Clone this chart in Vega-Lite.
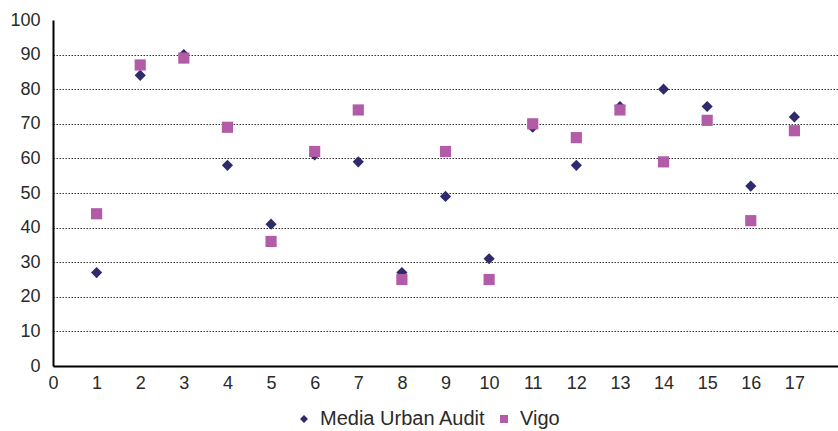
{
  "$schema": "https://vega.github.io/schema/vega-lite/v6.json",
  "width": 785,
  "height": 346,
  "autosize": {"type": "none"},
  "padding": {"left": 53, "top": 20, "right": 0, "bottom": 65},
  "background": "white",
  "config": {
    "view": {"stroke": null},
    "font": "Liberation Sans",
    "axis": {"labelFont": "Liberation Sans", "labelColor": "#2a2a2a", "labelFontSize": 18}
  },
  "data": {
    "values": [
      {"x": 1, "series": "Media Urban Audit", "v": 27},
      {"x": 2, "series": "Media Urban Audit", "v": 84},
      {"x": 3, "series": "Media Urban Audit", "v": 90},
      {"x": 4, "series": "Media Urban Audit", "v": 58},
      {"x": 5, "series": "Media Urban Audit", "v": 41},
      {"x": 6, "series": "Media Urban Audit", "v": 61},
      {"x": 7, "series": "Media Urban Audit", "v": 59},
      {"x": 8, "series": "Media Urban Audit", "v": 27},
      {"x": 9, "series": "Media Urban Audit", "v": 49},
      {"x": 10, "series": "Media Urban Audit", "v": 31},
      {"x": 11, "series": "Media Urban Audit", "v": 69},
      {"x": 12, "series": "Media Urban Audit", "v": 58},
      {"x": 13, "series": "Media Urban Audit", "v": 75},
      {"x": 14, "series": "Media Urban Audit", "v": 80},
      {"x": 15, "series": "Media Urban Audit", "v": 75},
      {"x": 16, "series": "Media Urban Audit", "v": 52},
      {"x": 17, "series": "Media Urban Audit", "v": 72},
      {"x": 1, "series": "Vigo", "v": 44},
      {"x": 2, "series": "Vigo", "v": 87},
      {"x": 3, "series": "Vigo", "v": 89},
      {"x": 4, "series": "Vigo", "v": 69},
      {"x": 5, "series": "Vigo", "v": 36},
      {"x": 6, "series": "Vigo", "v": 62},
      {"x": 7, "series": "Vigo", "v": 74},
      {"x": 8, "series": "Vigo", "v": 25},
      {"x": 9, "series": "Vigo", "v": 62},
      {"x": 10, "series": "Vigo", "v": 25},
      {"x": 11, "series": "Vigo", "v": 70},
      {"x": 12, "series": "Vigo", "v": 66},
      {"x": 13, "series": "Vigo", "v": 74},
      {"x": 14, "series": "Vigo", "v": 59},
      {"x": 15, "series": "Vigo", "v": 71},
      {"x": 16, "series": "Vigo", "v": 42},
      {"x": 17, "series": "Vigo", "v": 68}
    ]
  },
  "mark": {"type": "point", "filled": true, "opacity": 1, "size": 125},
  "encoding": {
    "x": {
      "field": "x", "type": "quantitative",
      "scale": {"domain": [0, 18], "nice": false, "zero": false},
      "axis": {
        "title": null,
        "values": [0,1,2,3,4,5,6,7,8,9,10,11,12,13,14,15,16,17],
        "grid": false,
        "ticks": false,
        "labelPadding": 8,
        "domainColor": "#000",
        "domainWidth": 2,
        "labelFlush": false
      }
    },
    "y": {
      "field": "v", "type": "quantitative",
      "scale": {"domain": [0, 100], "nice": false},
      "axis": {
        "title": null,
        "values": [0,10,20,30,40,50,60,70,80,90,100],
        "ticks": false,
        "labelPadding": 13,
        "domainColor": "#000",
        "domainWidth": 2,
        "grid": true,
        "gridColor": {"condition": {"test": "datum.value === 0 || datum.value === 100", "value": "transparent"}, "value": "#333"},
        "gridDash": [1.5, 1.5],
        "gridWidth": 1,
        "labelFlush": false
      }
    },
    "color": {
      "field": "series", "type": "nominal",
      "scale": {"domain": ["Media Urban Audit", "Vigo"], "range": ["#2F2A6C", "#B25CA7"]},
      "legend": {
        "title": null,
        "orient": "none",
        "direction": "horizontal",
        "legendX": 241,
        "legendY": 389,
        "labelFont": "Liberation Sans",
        "labelFontSize": 20,
        "labelLimit": 400,
        "labelColor": "#2a2a2a",
        "symbolSize": 64,
        "labelOffset": 6,
        "columnPadding": 8
      }
    },
    "shape": {
      "field": "series", "type": "nominal",
      "scale": {"domain": ["Media Urban Audit", "Vigo"], "range": ["diamond", "square"]}
    }
  }
}
